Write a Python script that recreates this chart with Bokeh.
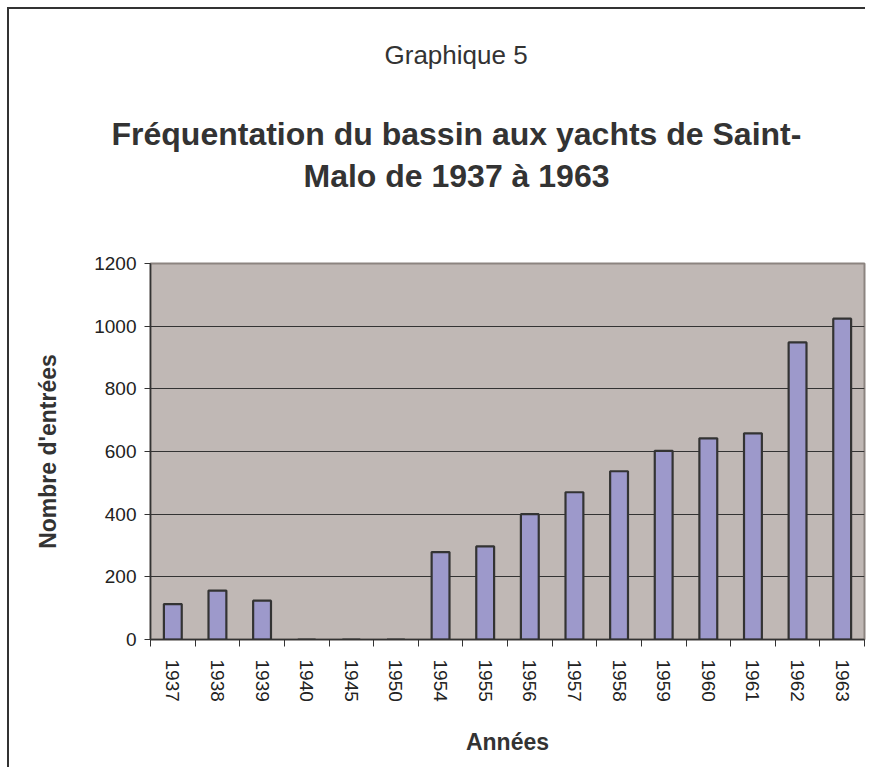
from bokeh.plotting import figure
from bokeh.models import Range1d, FixedTicker, Title, ColumnDataSource
from bokeh.embed import file_html
from bokeh.resources import INLINE
import numpy as np

# ---- data ----
years = ["1937", "1938", "1939", "1940", "1945", "1950", "1954", "1955",
         "1956", "1957", "1958", "1959", "1960", "1961", "1962", "1963"]
entries = [113, 156, 124, 0, 0, 0, 279, 297, 400, 470, 537, 602, 642, 658, 948, 1024]
y_ticks = [0, 200, 400, 600, 800, 1000, 1200]

title_small = "Graphique 5"
title_line1 = "Fréquentation du bassin aux yachts de Saint-"
title_line2 = "Malo de 1937 à 1963"
x_title = "Années"
y_title = "Nombre d'entrées"

FONT = "Liberation Sans"

centers = list(np.arange(len(years)) + 0.5)
bounds = list(np.arange(len(years) + 1).astype(float))
src = ColumnDataSource(dict(x=centers, top=entries, year=years))

p = figure(width=858, height=760, output_backend="svg", toolbar_location=None,
           x_range=Range1d(0, len(years)), y_range=Range1d(0, 1200),
           min_border_left=141, min_border_right=3, min_border_top=253,
           min_border_bottom=130)
p.styles = {"margin-left": "9px", "margin-top": "9px",
            "box-shadow": "-2px -2px 0px 0px #333333"}

p.border_fill_color = "white"
p.background_fill_color = "#C0B8B5"
p.outline_line_color = "#8C8480"
p.outline_line_width = 2

p.vbar(x="x", top="top", width=0.40, bottom=0, source=src,
       fill_color="#9D99CB", line_color="#333333", line_width=2.2)

# grid
p.xgrid.grid_line_color = None
p.ygrid.ticker = FixedTicker(ticks=y_ticks)
p.ygrid.grid_line_color = "#333333"
p.ygrid.grid_line_width = 1

# y axis
ya = p.yaxis[0]
ya.ticker = FixedTicker(ticks=y_ticks)
ya.axis_line_color = "#333333"
ya.axis_line_width = 1.5
ya.major_tick_line_color = "#333333"
ya.major_tick_out = 6
ya.major_tick_in = 0
ya.minor_tick_line_color = None
ya.major_label_text_font = FONT
ya.major_label_text_font_size = "19px"
ya.major_label_text_color = "#222222"
ya.major_label_standoff = 8
ya.axis_label = y_title
ya.axis_label_text_font = FONT
ya.axis_label_text_font_style = "bold"
ya.axis_label_text_font_size = "23px"
ya.axis_label_text_color = "#333333"
ya.axis_label_standoff = 30

# x axis
xa = p.xaxis[0]
xa.ticker = FixedTicker(ticks=centers, minor_ticks=bounds)
xa.major_label_overrides = {c: y for c, y in zip(centers, years)}
xa.axis_line_color = "#333333"
xa.axis_line_width = 1.5
xa.major_tick_line_color = None
xa.major_tick_out = 0
xa.major_tick_in = 0
xa.minor_tick_line_color = "#333333"
xa.minor_tick_out = 7
xa.minor_tick_in = 0
xa.major_label_orientation = "vertical"
xa.major_label_text_font = FONT
xa.major_label_text_font_size = "19px"
xa.major_label_text_color = "#222222"
xa.major_label_standoff = 13
xa.axis_label = x_title
xa.axis_label_text_font = FONT
xa.axis_label_text_font_style = "bold"
xa.axis_label_text_font_size = "23px"
xa.axis_label_text_color = "#333333"
xa.axis_label_standoff = 24

# titles (first added sits closest to the frame); bottom padding sets the gaps
p.add_layout(Title(text=title_line2, align="left", offset=153, standoff=2,
                   padding=dict(left=0, right=0, top=0, bottom=69),
                   text_font=FONT, text_font_size="32px", text_font_style="bold",
                   text_color="#333333"), "above")
p.add_layout(Title(text=title_line1, align="left", offset=-39, standoff=6,
                   text_font=FONT, text_font_size="32px", text_font_style="bold",
                   text_color="#333333"), "above")
p.add_layout(Title(text=title_small, align="left", offset=234, standoff=56,
                   padding=dict(left=0, right=0, top=0, bottom=13),
                   text_font=FONT, text_font_size="26px", text_font_style="normal",
                   text_color="#333333"), "above")

open("out.html", "w").write(file_html(p, INLINE))
